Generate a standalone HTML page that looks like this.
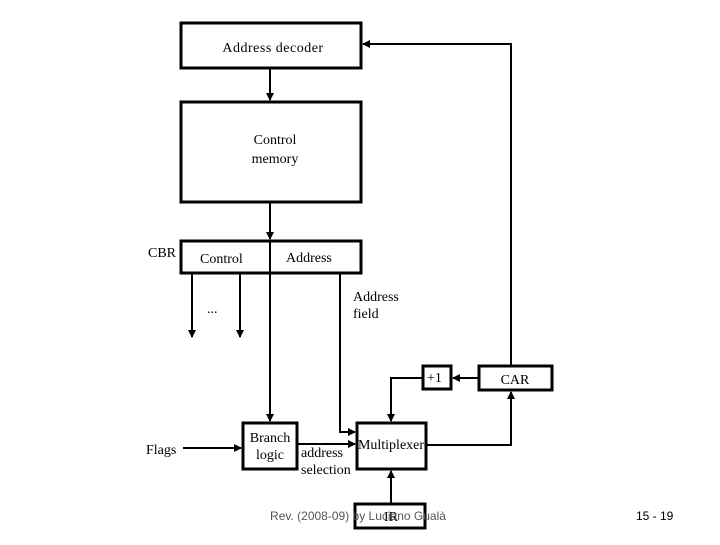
<!DOCTYPE html>
<html><head><style>
body{margin:0;background:#fff;width:720px;height:540px;overflow:hidden}
svg text{font-family:"Liberation Serif",serif;fill:#000}
</style></head><body>
<svg width="720" height="540" xmlns="http://www.w3.org/2000/svg">
<defs><marker id="a" markerWidth="8" markerHeight="8" refX="7" refY="4" orient="auto" markerUnits="userSpaceOnUse"><path d="M0,0 L8,4 L0,8 z" fill="#000"/></marker></defs>
<g fill="#fff" stroke="#000" stroke-width="3">
<rect x="181" y="23" width="180" height="45"/>
<rect x="181" y="102" width="180" height="100"/>
<rect x="181" y="241" width="180" height="32"/>
<rect x="423" y="366" width="28" height="23"/>
<rect x="479" y="366" width="73" height="24"/>
<rect x="243" y="423" width="54" height="46"/>
<rect x="357" y="423" width="69" height="46"/>
<rect x="355" y="504" width="70" height="24"/>
</g>
<g stroke="#000" stroke-width="2" fill="none">
<line x1="270" y1="241" x2="270" y2="273"/>
<line x1="270" y1="68" x2="270" y2="100" marker-end="url(#a)"/>
<line x1="270" y1="202" x2="270" y2="239" marker-end="url(#a)"/>
<line x1="270" y1="273" x2="270" y2="421" marker-end="url(#a)"/>
<line x1="192" y1="273" x2="192" y2="337" marker-end="url(#a)"/>
<line x1="240" y1="273" x2="240" y2="337" marker-end="url(#a)"/>
<polyline points="340,273 340,432 355,432" marker-end="url(#a)"/>
<line x1="479" y1="378" x2="453" y2="378" marker-end="url(#a)"/>
<polyline points="423,378 391,378 391,421" marker-end="url(#a)"/>
<polyline points="511,366 511,44 363,44" marker-end="url(#a)"/>
<polyline points="426,445 511,445 511,392" marker-end="url(#a)"/>
<line x1="183" y1="448" x2="241" y2="448" marker-end="url(#a)"/>
<line x1="297" y1="444" x2="355" y2="444" marker-end="url(#a)"/>
<line x1="391" y1="504" x2="391" y2="471" marker-end="url(#a)"/>
</g>
<g font-size="14">
<text x="273" y="52" text-anchor="middle" letter-spacing="0.5">Address decoder</text>
<text x="275" y="144" text-anchor="middle">Control</text>
<text x="275" y="163" text-anchor="middle">memory</text>
<text x="148" y="257">CBR</text>
<text x="200" y="263">Control</text>
<text x="286" y="262">Address</text>
<text x="207" y="313">...</text>
<text x="353" y="301">Address</text>
<text x="353" y="318">field</text>
<text x="427" y="382">+1</text>
<text x="515" y="384" text-anchor="middle">CAR</text>
<text x="146" y="454">Flags</text>
<text x="270" y="442" text-anchor="middle">Branch</text>
<text x="270" y="459" text-anchor="middle">logic</text>
<text x="301" y="457">address</text>
<text x="301" y="474">selection</text>
<text x="391" y="449" text-anchor="middle">Multiplexer</text>
<text x="391" y="521" text-anchor="middle">IR</text>
</g>
<text x="358" y="520" text-anchor="middle" font-size="12" style="font-family:'Liberation Sans',sans-serif;fill:#555">Rev. (2008-09) by Luciano Gualà</text>
<text x="636" y="520" font-size="12" style="font-family:'Liberation Sans',sans-serif;fill:#000">15 - 19</text>
</svg>
</body></html>
